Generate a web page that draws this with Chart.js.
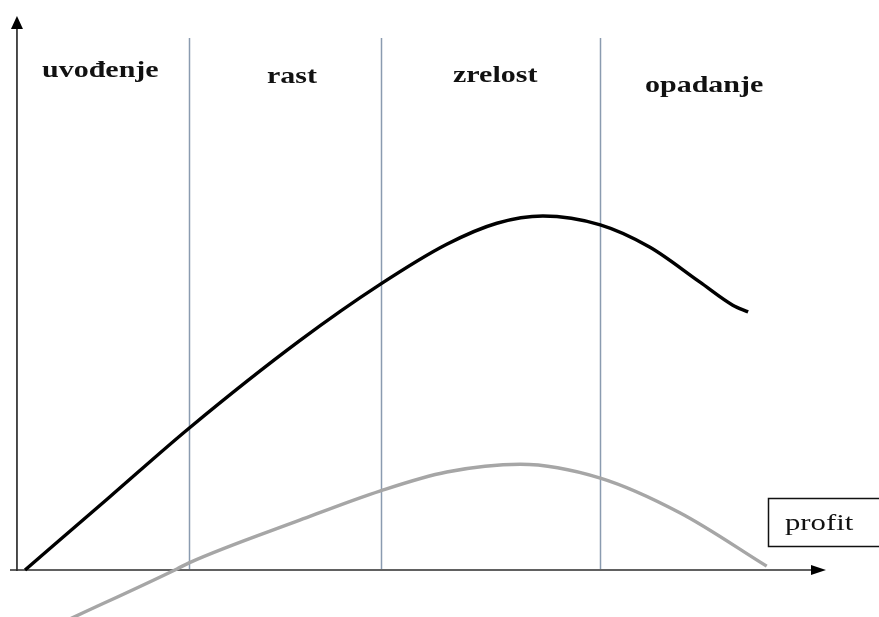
<!DOCTYPE html>
<html>
<head>
<meta charset="utf-8">
<title>Životni ciklus proizvoda</title>
<script src="https://cdn.jsdelivr.net/npm/chart.js@4.4.1/dist/chart.umd.min.js"></script>
<style>
  html, body { margin: 0; padding: 0; background: #ffffff; }
  #wrap { width: 879px; height: 617px; position: relative; }
</style>
</head>
<body>
<div id="wrap"><canvas id="plc-chart"></canvas></div>
<script>
// time (0..100) and sales / profit (0..100)
const salesTime   = [1, 11.4, 21.3, 35, 45, 53.2, 59.4, 65.1, 72.2, 78.3, 84.5, 88.6, 90.5];
const salesValue  = [0, 13.1, 25.6, 41.4, 51.6, 58.8, 62.6, 63.9, 62.3, 58.3, 52, 47.8, 46.6];
const profitTime  = [6.3, 19.8, 21.3, 35, 45, 53.2, 62.3, 72.2, 82.1, 92.8];
const profitValue = [-9, 0.2, 1.3, 9, 14.3, 17.7, 19.1, 16.6, 10.3, 0.7];
const phaseBounds = [21.3, 45, 72.2];
const phaseNames  = ['uvođenje', 'rast', 'zrelost', 'opadanje'];
const legendLabel = 'profit';

const toPoints = (xs, ys) => xs.map((x, i) => ({ x, y: ys[i] }));

// text in the source is a stretched serif, so widen it a bit
function wideText(ctx, text, left, base, sx) {
  ctx.save();
  ctx.translate(left, base);
  ctx.scale(sx, 1);
  ctx.fillText(text, 0, 0);
  ctx.restore();
}

// axes with arrows, phase dividers, phase names and the profit box
const decor = {
  id: 'decor',
  beforeDatasetsDraw(chart) {
    const { ctx, scales: { x, y } } = chart;
    const x0 = x.getPixelForValue(0);
    const y0 = y.getPixelForValue(0);
    ctx.save();

    // phase dividers
    ctx.strokeStyle = '#8a9bb0';
    ctx.lineWidth = 1.5;
    phaseBounds.forEach(b => {
      const px = Math.round(x.getPixelForValue(b)) + 0.5;
      ctx.beginPath();
      ctx.moveTo(px, 38);
      ctx.lineTo(px, y0 - 1);
      ctx.stroke();
    });

    // axes
    ctx.strokeStyle = '#2e2e2e';
    ctx.fillStyle = '#000';
    ctx.lineWidth = 1.7;
    ctx.beginPath();
    ctx.moveTo(x0, y0 + 1);
    ctx.lineTo(x0, 26);
    ctx.moveTo(10, y0);
    ctx.lineTo(814, y0);
    ctx.stroke();
    ctx.beginPath();
    ctx.moveTo(x0, 16); ctx.lineTo(x0 - 6, 29); ctx.lineTo(x0 + 6, 29); ctx.closePath();
    ctx.fill();
    ctx.beginPath();
    ctx.moveTo(826, y0); ctx.lineTo(811, y0 - 5); ctx.lineTo(811, y0 + 5); ctx.closePath();
    ctx.fill();

    // phase names
    ctx.font = 'bold 24px "Liberation Serif", "DejaVu Serif", serif';
    ctx.fillStyle = '#111';
    ctx.textBaseline = 'alphabetic';
    ctx.textAlign = 'left';
    const spots = [[42, 77], [267, 83], [453, 82], [645, 92]];
    phaseNames.forEach((n, i) => wideText(ctx, n, spots[i][0], spots[i][1], 1.25));

    // profit box
    ctx.strokeStyle = '#111';
    ctx.lineWidth = 1.5;
    ctx.strokeRect(768.5, 498.5, 120, 48);
    ctx.font = '24px "Liberation Serif", "DejaVu Serif", serif';
    wideText(ctx, legendLabel, 785, 530, 1.28);
    ctx.restore();
  }
};

new Chart(document.getElementById('plc-chart'), {
  type: 'scatter',
  data: {
    datasets: [
      {
        label: 'prodaja',
        data: toPoints(salesTime, salesValue),
        showLine: true,
        borderColor: '#000000',
        borderWidth: 3.4,
        pointRadius: 0,
        cubicInterpolationMode: 'monotone'
      },
      {
        label: legendLabel,
        data: toPoints(profitTime, profitValue),
        showLine: true,
        borderColor: '#a6a6a6',
        borderWidth: 3.4,
        pointRadius: 0,
        cubicInterpolationMode: 'monotone'
      }
    ]
  },
  options: {
    responsive: true,
    maintainAspectRatio: false,
    animation: false,
    layout: { padding: 0 },
    plugins: { legend: { display: false }, tooltip: { enabled: false } },
    scales: {
      x: { type: 'linear', min: -2.1, max: 106.7, display: false },
      y: { type: 'linear', min: -8.48, max: 102.9, display: false }
    }
  },
  plugins: [decor]
});
</script>
</body>
</html>
